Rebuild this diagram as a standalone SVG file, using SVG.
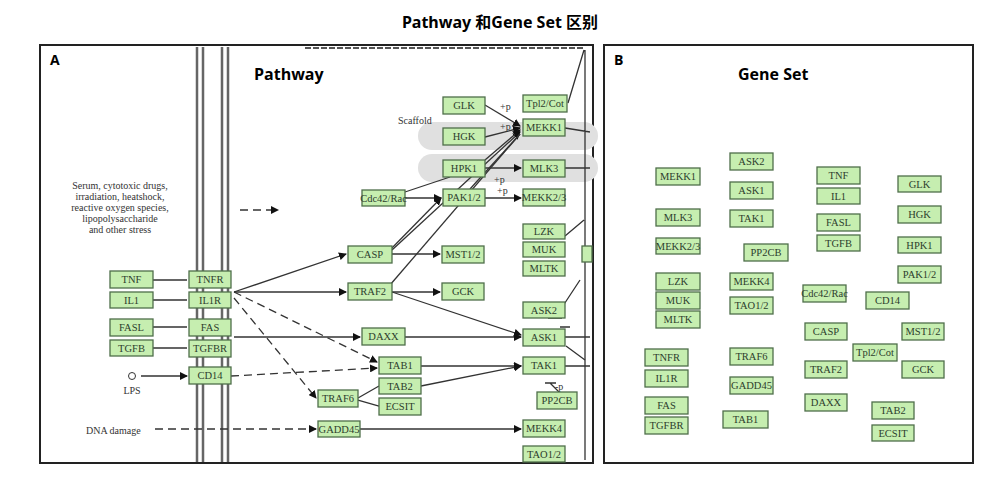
<svg xmlns="http://www.w3.org/2000/svg" width="999" height="479" viewBox="0 0 999 479">
<style>
.n rect{fill:#c6eeb0;stroke:#4f6f4a;stroke-width:1.3}
.n text{font-family:"Liberation Serif",serif;font-size:10.5px;fill:#2d3d2d;text-anchor:middle;dominant-baseline:central}
.e{stroke:#333;stroke-width:1.3;fill:none}
.d{stroke:#333;stroke-width:1.3;fill:none;stroke-dasharray:8,5}
.a{marker-end:url(#ar)}
.lbl{font-family:"Liberation Serif",serif;font-size:10px;fill:#333}
</style>
<defs><marker id="ar" markerWidth="8" markerHeight="8" refX="7" refY="4" orient="auto" markerUnits="userSpaceOnUse"><path d="M0,0 L8,4 L0,8 z" fill="#111"/></marker></defs>
<rect width="999" height="479" fill="#fff"/>
<text x="500" y="28" font-family="'Noto Sans','Noto Sans CJK SC',sans-serif" font-weight="bold" font-size="16" text-anchor="middle">Pathway 和Gene Set 区别</text>
<rect x="40" y="45" width="553" height="418" fill="none" stroke="#222" stroke-width="2"/>
<rect x="604" y="45" width="369" height="418" fill="none" stroke="#222" stroke-width="2"/>
<text x="50" y="65" font-family="'Open Sans',sans-serif" font-weight="bold" font-size="14">A</text>
<text x="254" y="80" font-family="'Open Sans',sans-serif" font-weight="bold" font-size="16">Pathway</text>
<text x="614" y="65" font-family="'Open Sans',sans-serif" font-weight="bold" font-size="14">B</text>
<text x="738" y="80" font-family="'Open Sans',sans-serif" font-weight="bold" font-size="16">Gene Set</text>
<line x1="305" y1="48" x2="585" y2="48" stroke="#555" stroke-width="2" stroke-dasharray="6,2"/>
<g stroke="#666" stroke-width="2.5"><line x1="197" y1="47" x2="197" y2="462"/><line x1="203" y1="47" x2="203" y2="462"/><line x1="222" y1="47" x2="222" y2="462"/><line x1="228" y1="47" x2="228" y2="462"/></g>
<rect x="418" y="122" width="180" height="28" rx="14" fill="#e0e0e0"/>
<rect x="418" y="154" width="180" height="28" rx="14" fill="#e0e0e0"/>
<text class="lbl" x="398" y="124">Scaffold</text>
<g class="lbl" text-anchor="middle" font-size="9.5"><text x="120" y="189">Serum, cytotoxic drugs,</text><text x="120" y="200">irradiation, heatshock,</text><text x="120" y="211">reactive oxygen species,</text><text x="120" y="222">lipopolysaccharide</text><text x="120" y="233">and other stress</text></g>
<text class="lbl" x="132" y="394" text-anchor="middle">LPS</text>
<circle cx="132" cy="376" r="3.5" fill="none" stroke="#333"/>
<text class="lbl" x="86" y="434">DNA damage</text>
<g id="connectors">
<path class="d a" d="M240,210H278"/>
<path class="e a" d="M153,280H187M153,300H187M153,327H187M153,348H187M141,376H187"/>
<path class="e a" d="M234,292L346,254"/><path class="e a" d="M234,292H346"/>
<path class="d a" d="M234,292L377,362"/><path class="d a" d="M234,298L316,398"/>
<path class="e a" d="M234,337H360"/><path class="e a" d="M405,337H521"/>
<path class="d a" d="M231,376L377,368"/>
<path class="e a" d="M392,292H440"/><path class="e a" d="M392,292L521,335"/>
<path class="e a" d="M392,254H440"/>
<path class="e a" d="M390,250L441,198"/><path class="e a" d="M392,250L520,132"/><path class="e" d="M390,285L520,134"/>
<path class="e a" d="M421,366H521"/><path class="e a" d="M421,386L521,366"/>
<path class="e" d="M358,398L379,386M358,400L379,406"/>
<path class="e a" d="M360,429H521"/><path class="d a" d="M155,429H316"/>
<path class="e a" d="M485,105L520,126"/><path class="e a" d="M485,137L520,128"/><path class="e a" d="M485,160L520,130"/>
<path class="e a" d="M485,168H521"/><path class="e a" d="M405,198H441"/><path class="e" d="M405,192L450,177"/>
<path class="e a" d="M485,198H521"/><path class="e" d="M470,189L520,134"/>
<path class="e" d="M565,128L590,132M565,168H590M565,337H590M565,366H590M585,50V460M568,103L584,50M565,236L584,220"/>
<path class="e" d="M555,318L580,280M548,318H562M566,346L585,360M560,327H570M550,383L560,393M545,383H556"/>
</g>
<g class="lbl" font-size="9"><text x="500" y="110">+p</text><text x="500" y="130">+p</text><text x="494" y="183">+p</text><text x="497" y="194">+p</text><text x="555" y="390">-p</text></g>
<g id="nA">
<g class="n"><rect x="443" y="97" width="42" height="17"/><text x="464" y="105.5">GLK</text></g>
<g class="n"><rect x="523" y="95" width="44" height="17"/><text x="545" y="103.5" font-size="9">Tpl2/Cot</text></g>
<g class="n"><rect x="443" y="128" width="42" height="17"/><text x="464" y="136.5">HGK</text></g>
<g class="n"><rect x="523" y="119" width="42" height="17"/><text x="544" y="127.5">MEKK1</text></g>
<g class="n"><rect x="443" y="160" width="42" height="17"/><text x="464" y="168.5">HPK1</text></g>
<g class="n"><rect x="523" y="160" width="42" height="17"/><text x="544" y="168.5">MLK3</text></g>
<g class="n"><rect x="362" y="190" width="43" height="16"/><text x="383.5" y="198" font-size="8">Cdc42/Rac</text></g>
<g class="n"><rect x="443" y="189" width="42" height="17"/><text x="464" y="197.5">PAK1/2</text></g>
<g class="n"><rect x="523" y="189" width="42" height="17"/><text x="544" y="197.5" font-size="9">MEKK2/3</text></g>
<g class="n"><rect x="523" y="224" width="42" height="15"/><text x="544" y="231.5">LZK</text></g>
<g class="n"><rect x="523" y="242" width="42" height="15"/><text x="544" y="249.5">MUK</text></g>
<g class="n"><rect x="523" y="261" width="42" height="15"/><text x="544" y="268.5">MLTK</text></g>
<g class="n"><rect x="582" y="246" width="10" height="16"/></g>
<g class="n"><rect x="348" y="246" width="44" height="17"/><text x="370" y="254.5">CASP</text></g>
<g class="n"><rect x="442" y="246" width="42" height="17"/><text x="463" y="254.5">MST1/2</text></g>
<g class="n"><rect x="110" y="271" width="43" height="17"/><text x="131.5" y="279.5">TNF</text></g>
<g class="n"><rect x="189" y="271" width="42" height="17"/><text x="210" y="279.5">TNFR</text></g>
<g class="n"><rect x="110" y="292" width="43" height="16"/><text x="131.5" y="300">IL1</text></g>
<g class="n"><rect x="189" y="292" width="42" height="16"/><text x="210" y="300">IL1R</text></g>
<g class="n"><rect x="348" y="283" width="44" height="17"/><text x="370" y="291.5">TRAF2</text></g>
<g class="n"><rect x="442" y="283" width="42" height="17"/><text x="463" y="291.5">GCK</text></g>
<g class="n"><rect x="523" y="302" width="42" height="16"/><text x="544" y="310">ASK2</text></g>
<g class="n"><rect x="110" y="319" width="43" height="17"/><text x="131.5" y="327.5">FASL</text></g>
<g class="n"><rect x="189" y="319" width="42" height="17"/><text x="210" y="327.5">FAS</text></g>
<g class="n"><rect x="362" y="328" width="43" height="17"/><text x="383.5" y="336.5">DAXX</text></g>
<g class="n"><rect x="523" y="329" width="42" height="17"/><text x="544" y="337.5">ASK1</text></g>
<g class="n"><rect x="110" y="340" width="43" height="16"/><text x="131.5" y="348">TGFB</text></g>
<g class="n"><rect x="189" y="340" width="42" height="17"/><text x="210" y="348.5">TGFBR</text></g>
<g class="n"><rect x="379" y="357" width="42" height="17"/><text x="400" y="365.5">TAB1</text></g>
<g class="n"><rect x="523" y="357" width="42" height="17"/><text x="544" y="365.5">TAK1</text></g>
<g class="n"><rect x="189" y="367" width="42" height="17"/><text x="210" y="375.5">CD14</text></g>
<g class="n"><rect x="379" y="378" width="42" height="16"/><text x="400" y="386">TAB2</text></g>
<g class="n"><rect x="318" y="390" width="40" height="17"/><text x="338" y="398.5">TRAF6</text></g>
<g class="n"><rect x="379" y="398" width="42" height="17"/><text x="400" y="406.5">ECSIT</text></g>
<g class="n"><rect x="537" y="392" width="40" height="17"/><text x="557" y="400.5">PP2CB</text></g>
<g class="n"><rect x="318" y="421" width="42" height="16"/><text x="339" y="429">GADD45</text></g>
<g class="n"><rect x="523" y="420" width="42" height="17"/><text x="544" y="428.5">MEKK4</text></g>
<g class="n"><rect x="523" y="446" width="42" height="16"/><text x="544" y="454">TAO1/2</text></g>
</g>
<g id="nB">
<g class="n"><rect x="656" y="168" width="44" height="17"/><text x="678" y="176.5">MEKK1</text></g>
<g class="n"><rect x="730" y="153" width="43" height="17"/><text x="751.5" y="161.5">ASK2</text></g>
<g class="n"><rect x="817" y="167" width="43" height="17"/><text x="838.5" y="175.5">TNF</text></g>
<g class="n"><rect x="898" y="176" width="43" height="16"/><text x="919.5" y="184">GLK</text></g>
<g class="n"><rect x="730" y="182" width="43" height="17"/><text x="751.5" y="190.5">ASK1</text></g>
<g class="n"><rect x="817" y="188" width="43" height="16"/><text x="838.5" y="196">IL1</text></g>
<g class="n"><rect x="898" y="206" width="43" height="17"/><text x="919.5" y="214.5">HGK</text></g>
<g class="n"><rect x="656" y="209" width="44" height="17"/><text x="678" y="217.5">MLK3</text></g>
<g class="n"><rect x="730" y="210" width="43" height="17"/><text x="751.5" y="218.5">TAK1</text></g>
<g class="n"><rect x="817" y="214" width="43" height="17"/><text x="838.5" y="222.5">FASL</text></g>
<g class="n"><rect x="817" y="235" width="43" height="16"/><text x="838.5" y="243">TGFB</text></g>
<g class="n"><rect x="898" y="237" width="43" height="16"/><text x="919.5" y="245">HPK1</text></g>
<g class="n"><rect x="656" y="238" width="44" height="16"/><text x="678" y="246" font-size="9">MEKK2/3</text></g>
<g class="n"><rect x="744" y="244" width="44" height="17"/><text x="766" y="252.5">PP2CB</text></g>
<g class="n"><rect x="898" y="266" width="43" height="17"/><text x="919.5" y="274.5">PAK1/2</text></g>
<g class="n"><rect x="656" y="273" width="44" height="17"/><text x="678" y="281.5">LZK</text></g>
<g class="n"><rect x="730" y="273" width="43" height="17"/><text x="751.5" y="281.5">MEKK4</text></g>
<g class="n"><rect x="803" y="285" width="43" height="17"/><text x="824.5" y="293.5" font-size="8">Cdc42/Rac</text></g>
<g class="n"><rect x="656" y="292" width="44" height="17"/><text x="678" y="300.5">MUK</text></g>
<g class="n"><rect x="730" y="297" width="43" height="17"/><text x="751.5" y="305.5">TAO1/2</text></g>
<g class="n"><rect x="866" y="292" width="43" height="17"/><text x="887.5" y="300.5">CD14</text></g>
<g class="n"><rect x="656" y="311" width="44" height="17"/><text x="678" y="319.5">MLTK</text></g>
<g class="n"><rect x="805" y="323" width="42" height="17"/><text x="826" y="331.5">CASP</text></g>
<g class="n"><rect x="902" y="323" width="42" height="17"/><text x="923" y="331.5">MST1/2</text></g>
<g class="n"><rect x="645" y="349" width="43" height="17"/><text x="666.5" y="357.5">TNFR</text></g>
<g class="n"><rect x="730" y="348" width="43" height="17"/><text x="751.5" y="356.5">TRAF6</text></g>
<g class="n"><rect x="853" y="344" width="44" height="17"/><text x="875" y="352.5" font-size="9">Tpl2/Cot</text></g>
<g class="n"><rect x="645" y="370" width="43" height="17"/><text x="666.5" y="378.5">IL1R</text></g>
<g class="n"><rect x="805" y="361" width="42" height="17"/><text x="826" y="369.5">TRAF2</text></g>
<g class="n"><rect x="902" y="361" width="42" height="17"/><text x="923" y="369.5">GCK</text></g>
<g class="n"><rect x="730" y="377" width="43" height="17"/><text x="751.5" y="385.5">GADD45</text></g>
<g class="n"><rect x="805" y="394" width="42" height="17"/><text x="826" y="402.5">DAXX</text></g>
<g class="n"><rect x="645" y="397" width="43" height="17"/><text x="666.5" y="405.5">FAS</text></g>
<g class="n"><rect x="872" y="402" width="42" height="17"/><text x="893" y="410.5">TAB2</text></g>
<g class="n"><rect x="645" y="417" width="43" height="17"/><text x="666.5" y="425.5">TGFBR</text></g>
<g class="n"><rect x="723" y="411" width="45" height="17"/><text x="745.5" y="419.5">TAB1</text></g>
<g class="n"><rect x="872" y="425" width="42" height="16"/><text x="893" y="433">ECSIT</text></g>
</g>
</svg>
